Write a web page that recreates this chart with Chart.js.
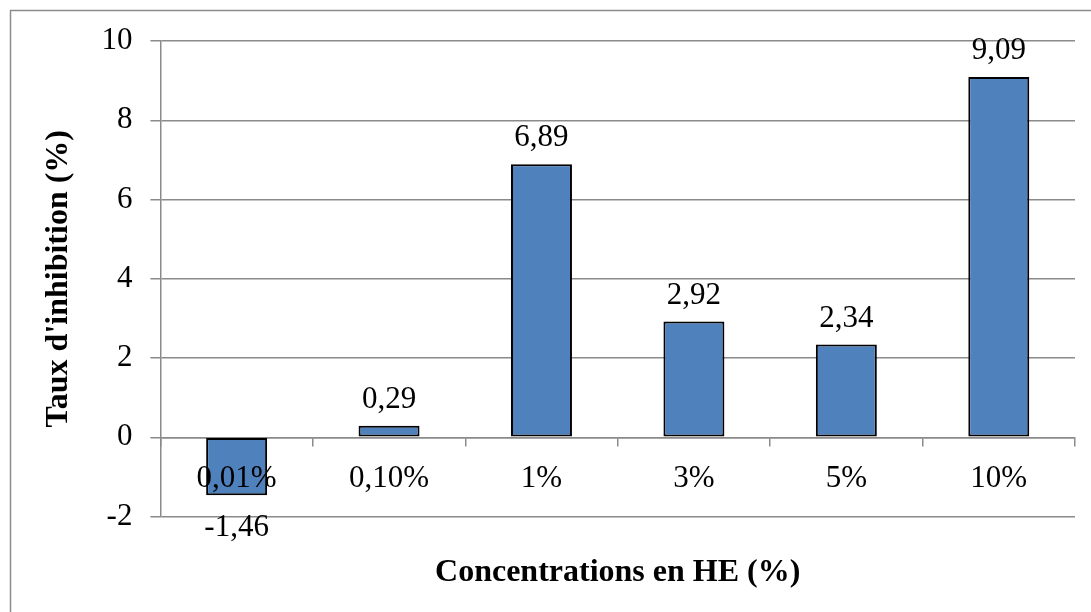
<!DOCTYPE html>
<html>
<head>
<meta charset="utf-8">
<title>Taux d'inhibition</title>
<script src="https://cdn.jsdelivr.net/npm/chart.js@4.4.1/dist/chart.umd.min.js"></script>
<style>
    html, body { margin: 0; padding: 0; background: #ffffff; }
    canvas { display: block; }
</style>
</head>
<body>
<canvas id="inhibition" width="1091" height="612"></canvas>
<script>
//Categories (concentrations)
const concentrations = ["0,01%", "0,10%", "1%", "3%", "5%", "10%"];
//Inhibition rate for each concentration
const inhibition = [-1.46, 0.29, 6.89, 2.92, 2.34, 9.09];
//Y axis range and step
const yMin = -2;
const yMax = 10;
const yStep = 2;

const serif = "'Liberation Serif', 'Times New Roman', serif";
const gridGray = "#8a8a8a";

//Plugin for writing the value next to each bar
const barValues = {
    id: "barValues",
    afterDatasetsDraw(chart) {
        const ctx = chart.ctx;
        const meta = chart.getDatasetMeta(0);
        ctx.save();
        ctx.font = "31px " + serif;
        ctx.fillStyle = "#000000";
        ctx.textAlign = "center";
        ctx.textBaseline = "alphabetic";
        meta.data.forEach((bar, i) => {
            const value = chart.data.datasets[0].data[i];
            const text = value.toFixed(2).replace(".", ",");
            if (value >= 0) {
                ctx.fillText(text, bar.x, bar.y - 18);
            } else {
                ctx.fillText(text, bar.x, bar.y + 41);
            }
        });
        ctx.restore();
    }
};

//Thin frame around the chart
const frame = {
    id: "frame",
    beforeDraw(chart) {
        const ctx = chart.ctx;
        ctx.save();
        ctx.strokeStyle = "#8c8c8c";
        ctx.lineWidth = 1.5;
        ctx.strokeRect(10.5, 10.5, chart.width + 20, chart.height + 20);
        ctx.restore();
    }
};

const canvas = document.getElementById("inhibition");

//Create chart
let myChart = new Chart(canvas, {
    type: "bar",
    plugins: [barValues, frame],
    data: {
        labels: concentrations,
        datasets: [
            {
                data: inhibition,
                backgroundColor: "#4f81bd",
                borderColor: "#000000",
                borderWidth: 2,
                borderSkipped: false,
                barPercentage: 0.4,
                categoryPercentage: 1.0,
            },
        ],
    },
    options: {
        responsive: false,
        animation: false,
        layout: {
            padding: { left: 40, right: 16, top: 41, bottom: 0 },
        },
        plugins: {
            legend: { display: false },
            tooltip: { enabled: false },
            //Axis caption under the plot, centred on the plot area
            title: {
                display: true,
                position: "bottom",
                fullSize: false,
                text: "Concentrations en HE (%)",
                color: "#000000",
                font: { family: serif, size: 32, weight: "bold" },
                padding: { top: 37, bottom: 20 },
            },
        },
        scales: {
            x: {
                position: { y: 0 },
                grid: {
                    offset: true,
                    drawOnChartArea: false,
                    drawTicks: true,
                    tickLength: 8,
                    color: gridGray,
                    lineWidth: 1.5,
                },
                border: { display: true, color: gridGray, width: 1.5 },
                ticks: {
                    color: "#000000",
                    font: { family: serif, size: 31 },
                    padding: 15,
                    maxRotation: 0,
                    autoSkip: false,
                    z: 1,
                },
            },
            y: {
                min: yMin,
                max: yMax,
                grid: {
                    color: gridGray,
                    lineWidth: 1.5,
                    drawTicks: true,
                    tickLength: 10,
                },
                border: { display: true, color: gridGray, width: 1.5 },
                ticks: {
                    stepSize: yStep,
                    color: "#000000",
                    font: { family: serif, size: 31 },
                    padding: 18,
                },
                title: {
                    display: true,
                    text: "Taux d'inhibition (%)",
                    color: "#000000",
                    font: { family: serif, size: 32, weight: "bold" },
                    padding: { top: 0, bottom: 5 },
                },
            },
        },
    },
});
</script>
</body>
</html>
